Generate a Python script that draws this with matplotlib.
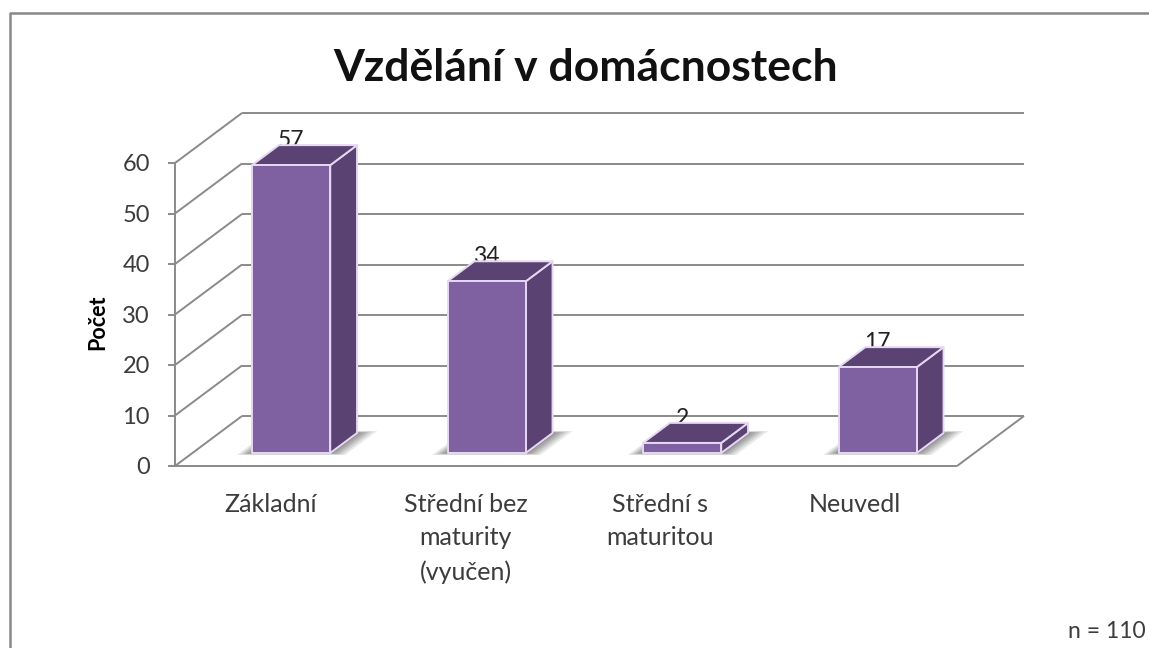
import matplotlib
matplotlib.use("Agg")
import matplotlib.pyplot as plt
from matplotlib.patches import Polygon

plt.rcParams['font.family'] = ['Lato', 'DejaVu Sans']

categories = ["Základní", "Střední bez\nmaturity\n(vyučen)", "Střední s\nmaturitou", "Neuvedl"]
values = [57, 34, 2, 17]
yticks = [0, 10, 20, 30, 40, 50, 60]
title = "Vzdělání v domácnostech"
ylabel = "Počet"
note = "n = 110"

W, H = 1149, 648
fig = plt.figure(figsize=(W/100, H/100), dpi=100)
ax = fig.add_axes([175/W, (H-466)/H, 782/W, 303/H])
ax.set_xlim(0, 4)
ax.set_ylim(0, 60)
ax.axis('off')

# oblique projection: depth 1 is the back wall
DX = 67/195.5
DY = 50/5.05
def P(x, v, d=0.0):
    return (x + d*DX, v + d*DY)

GRID = '#8a8a8a'
TXT = '#3c3c3c'
kw = dict(color=GRID, lw=1.4, clip_on=False, solid_capstyle='butt')

# walls and floor
for t in yticks:
    a, b = P(0, t), P(0, t, 1)
    ax.plot([a[0], b[0]], [a[1], b[1]], zorder=1, **kw)
    c = P(4, t, 1)
    ax.plot([b[0], c[0]], [b[1], c[1]], zorder=1, **kw)
    ax.plot([-7/195.5, 0], [t, t], zorder=1, **kw)
    ax.text(-25/195.5, t - 0.3, str(t), ha='right', va='center', fontsize=17, color=TXT, clip_on=False)
ax.plot([0, 0], [0, 60], zorder=1, **kw)
ax.plot([0, 4], [0, 0], zorder=1, **kw)
a, b = P(4, 0), P(4, 0, 1)
ax.plot([a[0], b[0]], [a[1], b[1]], zorder=1, **kw)

# bars
BW = 0.40
D0, D1 = 0.26, 0.66
FRONT, DARK, EDGE = '#7F60A0', '#5A4272', '#E6D8F2'
for i, v in enumerate(values):
    cx = i + 0.505
    xl, xr = cx - BW/2, cx + BW/2
    # soft floor shadow: stacked translucent parallelograms fake the blur
    for k, al in zip([0.0, 0.2, 0.4, 0.6, 0.8], [0.12, 0.15, 0.18, 0.20, 0.22]):
        g = 1 - k
        sl, sr = xl - 0.065*g, xr + 0.09*g
        d0, d1 = D0 - 0.04*g, D1 + 0.04*g
        pts = [P(sl, 0, d0), P(sr, 0, d0), P(sr, 0, d1), P(sl, 0, d1)]
        ax.add_patch(Polygon(pts, closed=True, fc='#555555', ec='none', alpha=al, zorder=2, clip_on=False))
    # data label sits behind the bar's top
    tx, ty = P(cx, v, D0)
    ax.annotate(str(v), xy=(tx, ty), xytext=(0, 10), textcoords='offset points', ha='center', va='bottom',
                fontsize=16.5, color='#222222', zorder=3, annotation_clip=False)
    ekw = dict(closed=True, ec=EDGE, lw=1.4, zorder=4, clip_on=False, joinstyle='round')
    ax.add_patch(Polygon([P(xr, 0, D0), P(xr, 0, D1), P(xr, v, D1), P(xr, v, D0)], fc=DARK, **ekw))
    ax.add_patch(Polygon([P(xl, v, D0), P(xr, v, D0), P(xr, v, D1), P(xl, v, D1)], fc=DARK, **ekw))
    ax.add_patch(Polygon([P(xl, 0, D0), P(xr, 0, D0), P(xr, v, D0), P(xl, v, D0)], fc=FRONT, **ekw))
    # category label
    ax.text(i + 0.49 - 0.004*i, -5.3, categories[i], ha='center', va='top', fontsize=18, color=TXT,
            linespacing=1.55, clip_on=False)

fig.text(98/W, 1 - 322/H, ylabel, rotation=90, ha='center', va='center', fontsize=15.5,
         fontweight='bold', color='black')
fig.text(585.5/W, 1 - 68/H, title, ha='center', va='center', fontsize=32, fontweight='bold', color='#111111')
fig.text(1146/W, 1 - 632/H, note, ha='right', va='center', fontsize=16.5, color=TXT)

# chart frame
fig.add_artist(plt.Line2D([1.0, 10/W, 10/W], [1 - 13/H, 1 - 13/H, 0], color='#888888', lw=1.8,
                          transform=fig.transFigure))
fig.savefig('out.png', dpi=100, facecolor='white')
